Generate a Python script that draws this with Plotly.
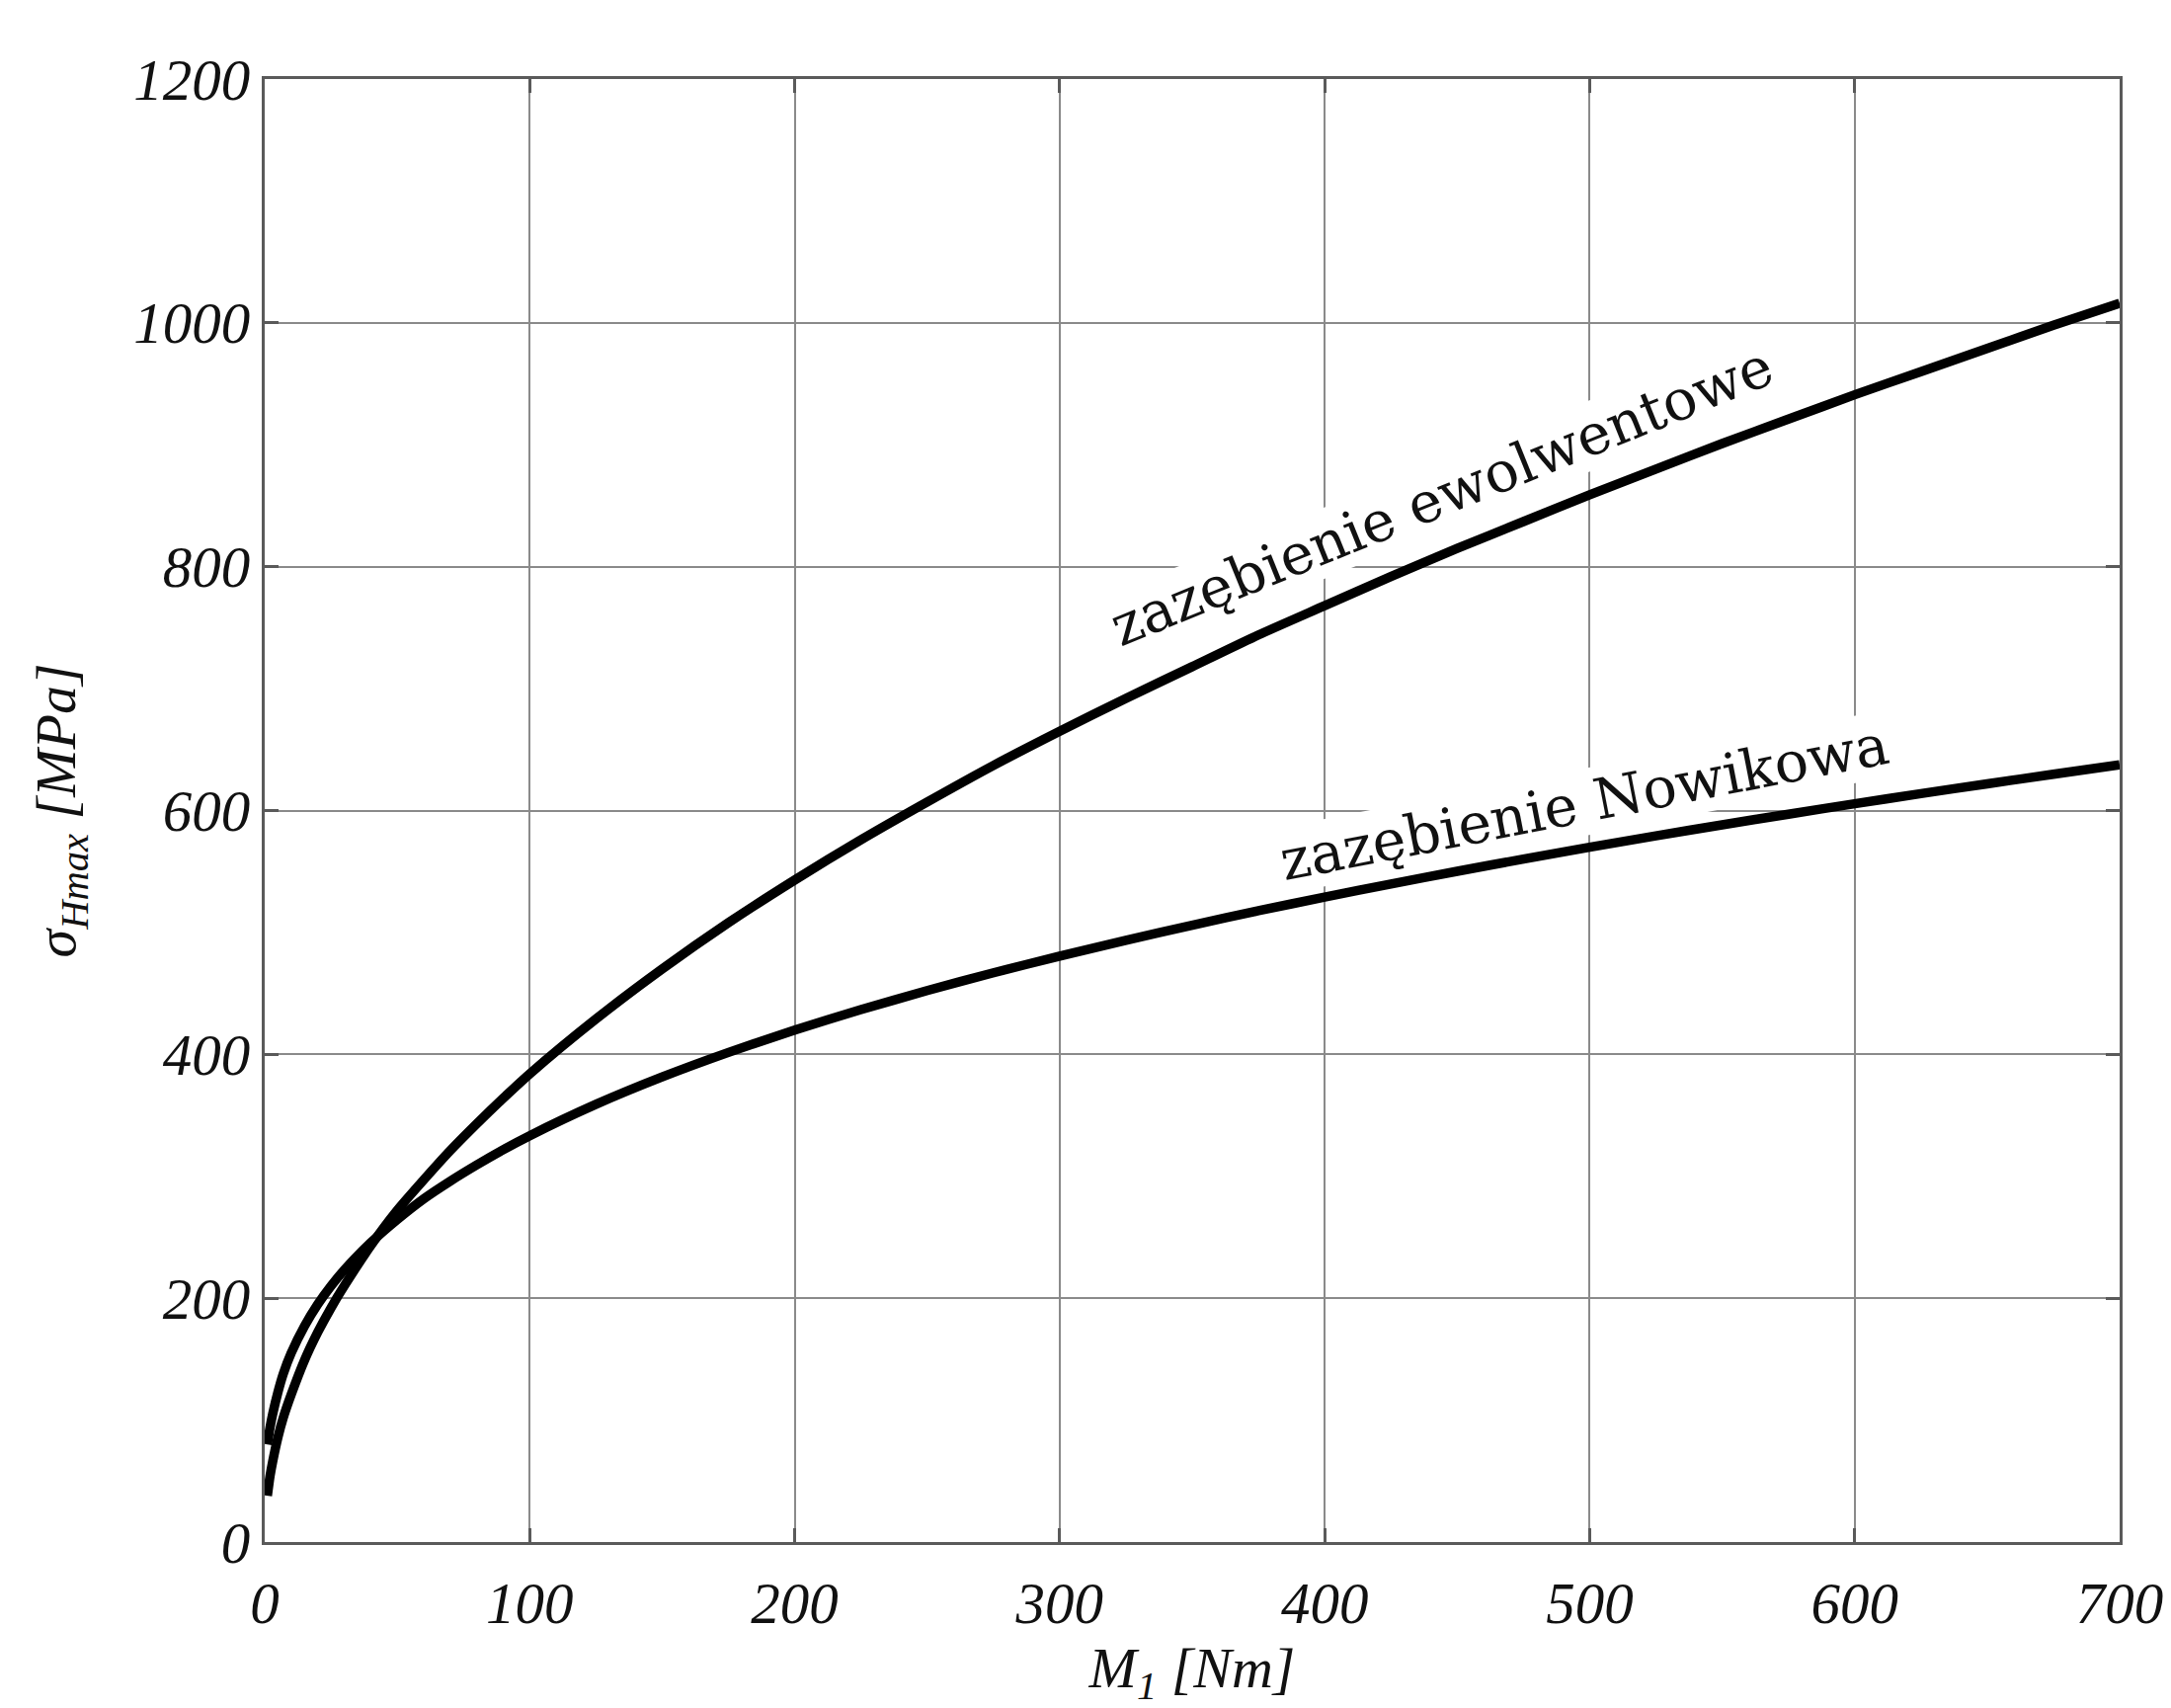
import plotly.graph_objects as go

# Data
m1_evol = [1, 2, 3, 5, 7, 10, 15, 20, 25, 30, 40, 50, 60, 70, 80, 90, 100, 125, 150, 175,
           200, 225, 250, 275, 300, 325, 350, 375, 400, 425, 450, 475, 500, 525, 550, 575,
           600, 625, 650, 675, 700]
sigma_evol = [38, 54, 66, 86, 102, 121, 149, 172, 192, 210, 243, 272, 297, 321, 343, 364,
              384, 429, 470, 508, 543, 576, 607, 637, 665, 692, 718, 744, 768, 792, 815,
              837, 859, 880, 901, 921, 941, 960, 979, 998, 1016]

m1_now = [1, 2, 3, 5, 7, 10, 15, 20, 25, 30, 40, 50, 60, 70, 80, 90, 100, 125, 150, 175,
          200, 225, 250, 275, 300, 325, 350, 375, 400, 425, 450, 475, 500, 525, 550, 575,
          600, 625, 650, 675, 700]
sigma_now = [80, 94, 105, 123, 138, 155, 177, 194.9, 209.9, 223.1, 245.5, 264.5, 281.5,
             296.0, 309.3, 321.8, 333.3, 359.0, 381.5, 401.6, 419.9, 436.7, 452.3, 466.9,
             480.6, 493.6, 506.0, 517.8, 529.0, 539.8, 550.2, 560.2, 569.9, 579.2, 588.3,
             597.0, 605.6, 613.9, 621.9, 629.8, 637.5]

x_ticks = [0, 100, 200, 300, 400, 500, 600, 700]
y_ticks = [0, 200, 400, 600, 800, 1000, 1200]

label_evol = "zazębienie ewolwentowe"
label_now = "zazębienie Nowikowa"

tick_font = dict(family="Liberation Serif", size=59, color="#111111", style="italic")
title_font = dict(family="Liberation Serif", size=58, color="#111111", style="italic")
ytitle_font = dict(family="Liberation Serif", size=58, color="#111111", style="italic")
ann_font = dict(family="DejaVu Serif", size=57, color="#111111")

fig = go.Figure()
fig.add_trace(go.Scatter(x=m1_evol, y=sigma_evol, mode="lines",
                         line=dict(color="black", width=9.5, shape="spline", smoothing=0.6),
                         showlegend=False))
fig.add_trace(go.Scatter(x=m1_now, y=sigma_now, mode="lines",
                         line=dict(color="black", width=9.5, shape="spline", smoothing=0.6),
                         showlegend=False))

fig.add_annotation(x=444, y=858, xref="x", yref="y", text=label_evol, showarrow=False,
                   textangle=-22, font=ann_font, bgcolor="white", borderpad=0)
fig.add_annotation(x=498, y=607, xref="x", yref="y", text=label_now, showarrow=False,
                   textangle=-11, font=ann_font, bgcolor="white", borderpad=0)

axis_common = dict(showgrid=True, gridcolor="#8a8a8a", gridwidth=1.5,
                   showline=True, linecolor="#5a5a5a", linewidth=3, mirror="ticks",
                   ticks="inside", ticklen=14, tickwidth=3, tickcolor="#5a5a5a",
                   zeroline=False, tickfont=tick_font)

fig.update_xaxes(range=[0, 700], tickvals=x_ticks, ticktext=[str(v) for v in x_ticks],
                 ticklabelstandoff=8,
                 title=dict(text="M<sub>1</sub> [Nm]", font=title_font, standoff=22),
                 **axis_common)
fig.update_yaxes(range=[0, 1200], tickvals=y_ticks, ticktext=[str(v) for v in y_ticks],
                 title=dict(text="σ<sub>Hmax</sub> [MPa]", font=ytitle_font, standoff=40),
                 **axis_common)

fig.update_layout(width=2198, height=1729, paper_bgcolor="white", plot_bgcolor="white",
                  margin=dict(l=268, r=52, t=80, b=168, autoexpand=False))

fig.write_html("out.html", config={"displayModeBar": False},
               post_script="document.body.style.margin='0';document.body.style.overflow='hidden';")
